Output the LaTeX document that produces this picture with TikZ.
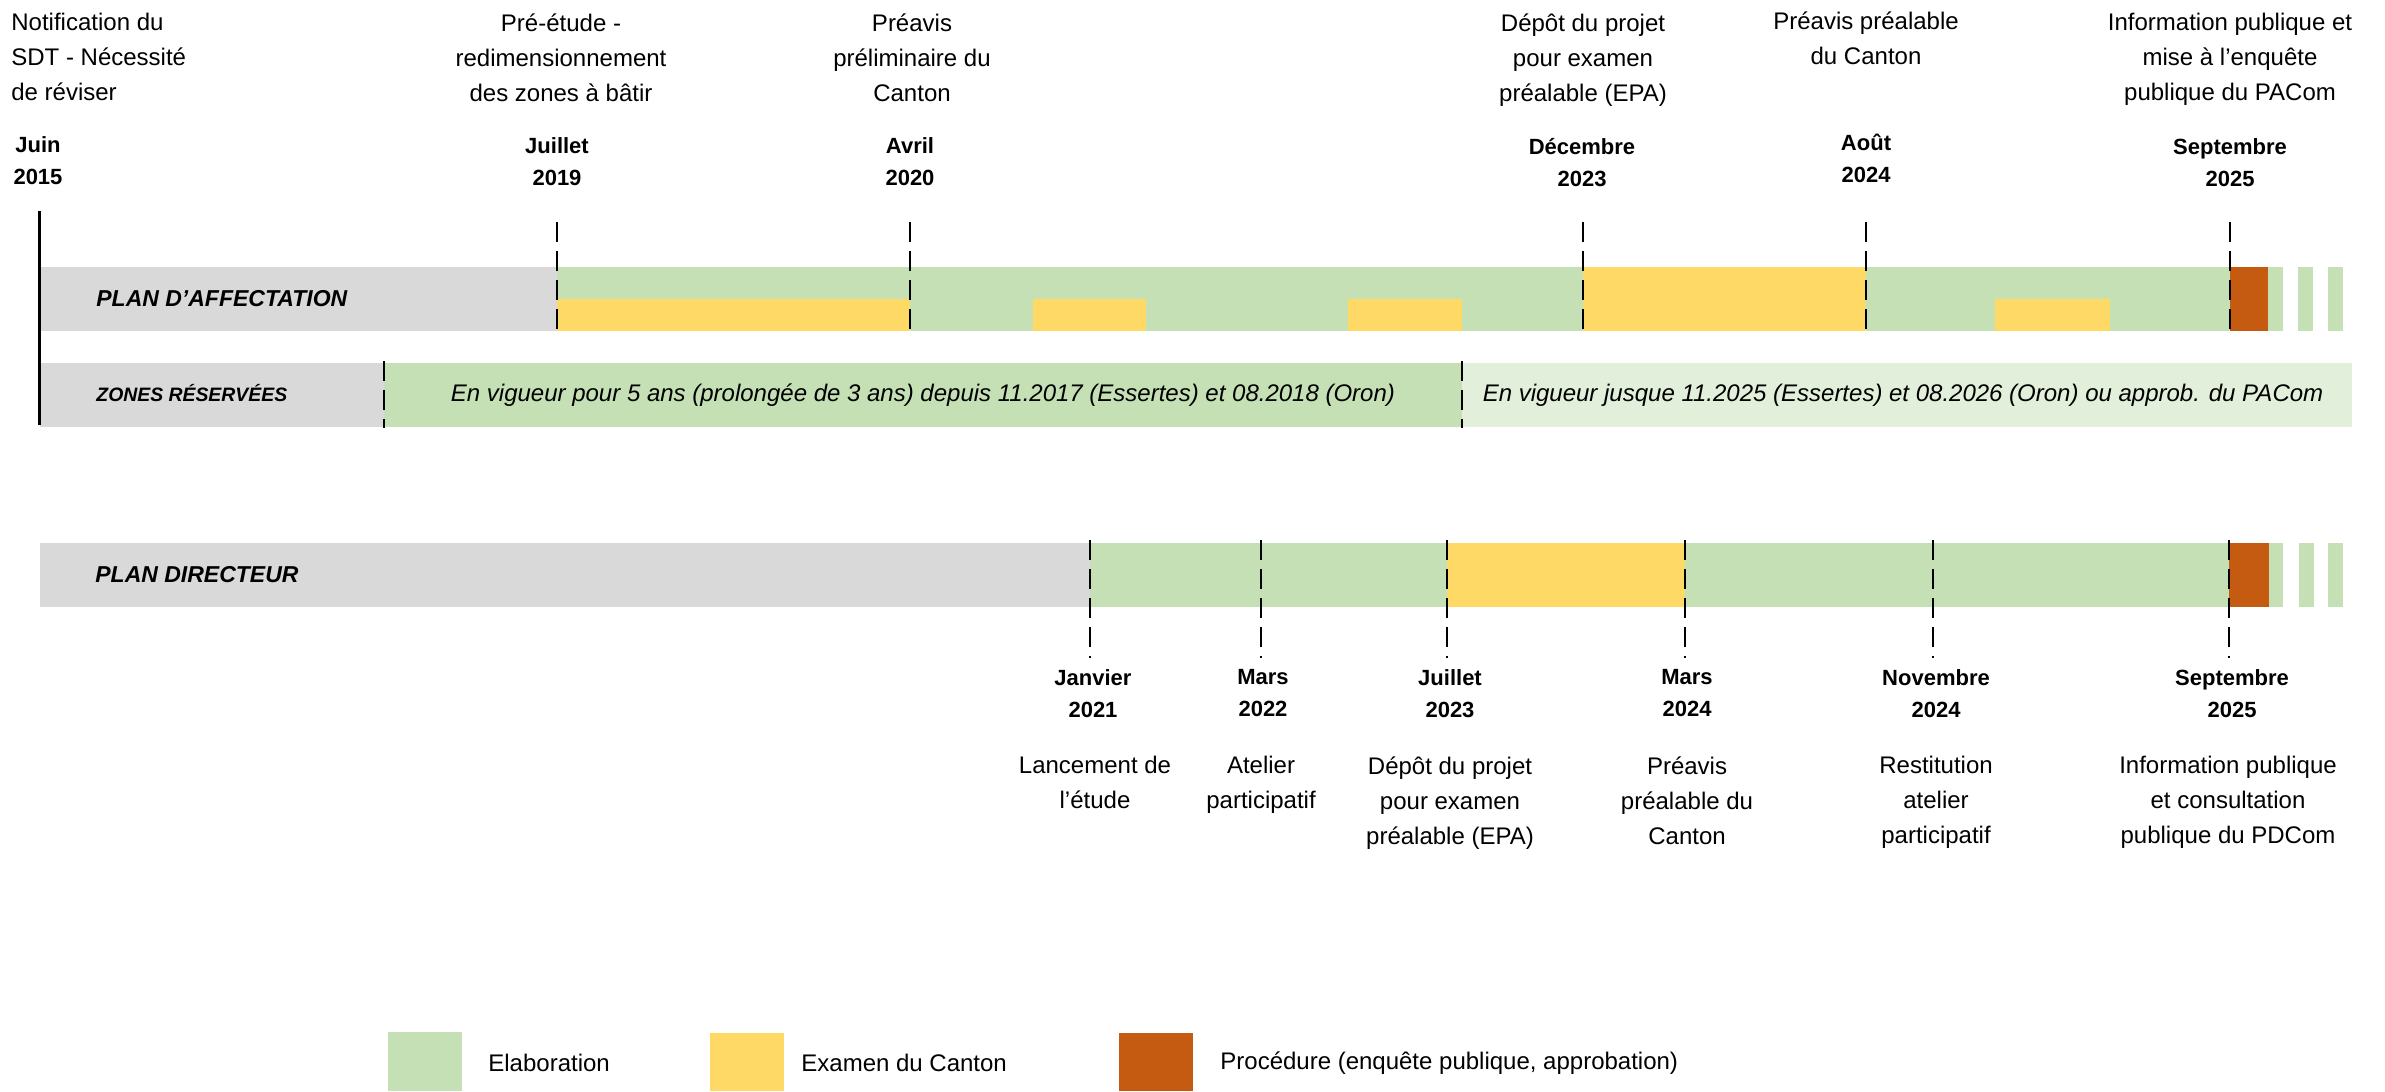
\documentclass[tikz,border=0pt]{standalone}
\usepackage{fontspec}
\setmainfont{Liberation Sans}
\definecolor{cgreen}{HTML}{C5E0B4}
\definecolor{clight}{HTML}{E2EFDA}
\definecolor{cyellow}{HTML}{FFD966}
\definecolor{corange}{HTML}{C55A11}
\definecolor{cgray}{HTML}{D9D9D9}
\tikzset{
  desclbl/.style={font=\fontsize{12}{17.5}\selectfont, align=center, inner sep=0pt, anchor=north},
  datelbl/.style={font=\bfseries\fontsize{11}{16}\selectfont, align=center, inner sep=0pt, anchor=north},
  barlbl/.style={font=\bfseries\itshape\fontsize{11.5}{14}\selectfont, inner sep=0pt, anchor=west},
  zonelbl/.style={font=\itshape\fontsize{12}{14}\selectfont, inner sep=0pt, anchor=center},
  leglbl/.style={font=\fontsize{12}{14}\selectfont, inner sep=0pt, anchor=west},
  dashmark/.style={line width=1.25pt, dash pattern=on 10pt off 4.5pt},
}
\begin{document}
\begin{tikzpicture}[x=0.5pt,y=-0.5pt]
\useasboundingbox (0,0) rectangle (2385,1091);

% ---------- PLAN D'AFFECTATION bar ----------
\fill[cgray] (41,267) rectangle (557,331);
\fill[cgreen] (557,267) rectangle (2283,331);
\fill[cyellow] (557,299) rectangle (910,331);
\fill[cyellow] (1033,299) rectangle (1146,331);
\fill[cyellow] (1348,299) rectangle (1462,331);
\fill[cyellow] (1583,267) rectangle (1866,331);
\fill[cyellow] (1995,299) rectangle (2110,331);
\fill[corange] (2230,267) rectangle (2268,331);
\fill[cgreen] (2298,267) rectangle (2313,331);
\fill[cgreen] (2328,267) rectangle (2343,331);

% ---------- ZONES RESERVEES bar ----------
\fill[cgray] (40,363) rectangle (384,427);
\fill[cgreen] (384,363) rectangle (1462,427);
\fill[clight] (1462,363) rectangle (2352,427);

% ---------- PLAN DIRECTEUR bar ----------
\fill[cgray] (40,543) rectangle (1090,607);
\fill[cgreen] (1090,543) rectangle (2283,607);
\fill[cyellow] (1447,543) rectangle (1685,607);
\fill[corange] (2229,543) rectangle (2269,607);
\fill[cgreen] (2299,543) rectangle (2314,607);
\fill[cgreen] (2328,543) rectangle (2343,607);

% ---------- left axis ----------
\coordinate (axtop) at (39,211);
\coordinate (axbot) at (39,425);
\draw[line width=1.5pt] (axtop) -- (axbot);

% ---------- dashed markers ----------
\foreach \xx in {557,910,1583,1866,2230}
  \draw[dashmark] (\xx,222) -- (\xx,338);
\foreach \xx in {384,1462}
  \draw[dashmark] (\xx,361) -- (\xx,428);
\foreach \xx in {1090,1261,1447,1685,1933,2229}
  \draw[dashmark] (\xx,540) -- (\xx,658);

% ---------- bar labels ----------
\node[barlbl] (pa) at (96,299) {PLAN D’AFFECTATION};
\node[barlbl, font=\bfseries\itshape\fontsize{9.7}{12}\selectfont] (zr) at (96,393) {ZONES RÉSERVÉES};
\node[barlbl] (pd) at (95,575) {PLAN DIRECTEUR};
\node[zonelbl] (z1) at (923,395) {En vigueur pour 5 ans (prolongée de 3 ans) depuis 11.2017 (Essertes) et 08.2018 (Oron)};
\node[zonelbl] (z2) at (1903,395) {En vigueur jusque 11.2025 (Essertes) et 08.2026 (Oron) ou approb. du PACom};

% ---------- top descriptions ----------
\node[desclbl, anchor=north west, align=left] (d0) at (11,13) {Notification du\\SDT - Nécessité\\de réviser};
\node[desclbl] (d1) at (561,13) {Pré-étude -\\redimensionnement\\des zones à bâtir};
\node[desclbl] (d2) at (912,13) {Préavis\\préliminaire du\\Canton};
\node[desclbl] (d3) at (1583,13) {Dépôt du projet\\pour examen\\préalable (EPA)};
\node[desclbl] (d4) at (1866,11) {Préavis préalable\\du Canton};
\node[desclbl] (d5) at (2230,13) {Information publique et\\mise à l’enquête\\publique du PACom};

% ---------- top dates ----------
\node[datelbl] (a0) at (38,136) {Juin\\2015};
\node[datelbl] (a1) at (557,137) {Juillet\\2019};
\node[datelbl] (a2) at (910,137) {Avril\\2020};
\node[datelbl] (a3) at (1582,138) {Décembre\\2023};
\node[datelbl] (a4) at (1866,134) {Août\\2024};
\node[datelbl] (a5) at (2230,138) {Septembre\\2025};

% ---------- bottom dates ----------
\node[datelbl] (b1) at (1093,669) {Janvier\\2021};
\node[datelbl] (b2) at (1263,669) {Mars\\2022};
\node[datelbl] (b3) at (1450,669) {Juillet\\2023};
\node[datelbl] (b4) at (1687,669) {Mars\\2024};
\node[datelbl] (b5) at (1936,669) {Novembre\\2024};
\node[datelbl] (b6) at (2232,669) {Septembre\\2025};

% ---------- bottom descriptions ----------
\node[desclbl] (e1) at (1095,756) {Lancement de\\l’étude};
\node[desclbl] (e2) at (1261,756) {Atelier\\participatif};
\node[desclbl] (e3) at (1450,756) {Dépôt du projet\\pour examen\\préalable (EPA)};
\node[desclbl] (e4) at (1687,756) {Préavis\\préalable du\\Canton};
\node[desclbl] (e5) at (1936,756) {Restitution\\atelier\\participatif};
\node[desclbl] (e6) at (2228,756) {Information publique\\et consultation\\publique du PDCom};

% ---------- legend ----------
\fill[cgreen] (388,1032) rectangle (462,1091);
\fill[cyellow] (710,1033) rectangle (784,1091);
\fill[corange] (1119,1033) rectangle (1193,1091);
\node[leglbl] (l1) at (488,1063) {Elaboration};
\node[leglbl] (l2) at (801,1063) {Examen du Canton};
\node[leglbl] (l3) at (1220,1063) {Procédure (enquête publique, approbation)};
\end{tikzpicture}
\end{document}
